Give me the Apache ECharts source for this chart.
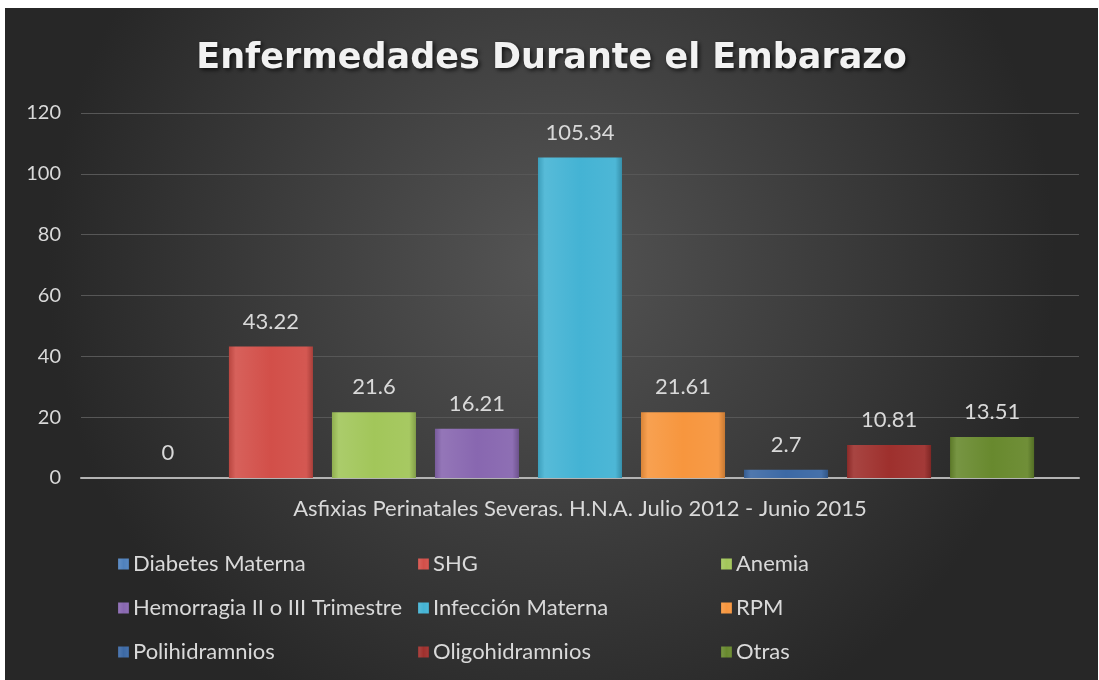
<!DOCTYPE html>
<html>
<head>
<meta charset="utf-8">
<script src="https://cdn.jsdelivr.net/npm/echarts@6/dist/echarts.min.js"></script>
<style>
  html, body { margin: 0; padding: 0; background: #fff; }
  #chart { position: absolute; left: 5px; top: 8px; width: 1093px; height: 672px; }
</style>
</head>
<body>
<div id="chart"></div>
<script>
const categories = ['Asfixias Perinatales Severas. H.N.A. Julio 2012 - Junio 2015']
const seriesNames = ['Diabetes Materna', 'SHG', 'Anemia', 'Hemorragia II o III Trimestre', 'Infección Materna', 'RPM', 'Polihidramnios', 'Oligohidramnios', 'Otras']
const seriesValues = [0, 43.22, 21.6, 16.21, 105.34, 21.61, 2.7, 10.81, 13.51]
const yTicks = [0, 20, 40, 60, 80, 100, 120]
const colors = ['#4f81bd', '#d24f49', '#a2c65a', '#8867b0', '#44b3d4', '#f7963e', '#3c69a5', '#9e302d', '#68892e']

// legend columns (3 x 3 grid like the original)
const legendCols = [
  ['Diabetes Materna', 'Hemorragia II o III Trimestre', 'Polihidramnios'],
  ['SHG', 'Infección Materna', 'Oligohidramnios'],
  ['Anemia', 'RPM', 'Otras']
]
const legendLeft = [108, 408, 711]

const lighten = (hex, amt) => {
  const n = parseInt(hex.slice(1), 16)
  let r = (n >> 16) & 255, g = (n >> 8) & 255, b = n & 255
  r = Math.round(r + (255 - r) * amt); g = Math.round(g + (255 - g) * amt); b = Math.round(b + (255 - b) * amt)
  return `rgb(${r},${g},${b})`
}
const darken = (hex, amt) => {
  const n = parseInt(hex.slice(1), 16)
  const f = c => Math.round(c * (1 - amt))
  return `rgb(${f((n >> 16) & 255)},${f((n >> 8) & 255)},${f(n & 255)})`
}
const barFill = c => new echarts.graphic.LinearGradient(0, 0, 1, 0, [
  { offset: 0, color: darken(c, 0.12) },
  { offset: 0.08, color: lighten(c, 0.1) },
  { offset: 0.5, color: c },
  { offset: 0.92, color: lighten(c, 0.05) },
  { offset: 1, color: darken(c, 0.2) }
])

const chart = echarts.init(document.getElementById('chart'))
const font = 'Lato, "Open Sans", sans-serif'

chart.setOption({
  animation: false,
  backgroundColor: {
    type: 'radial', x: 0.5, y: 0.38, r: 0.75,
    colorStops: [{ offset: 0, color: '#555555' }, { offset: 1, color: '#272727' }]
  },
  title: {
    text: 'Enfermedades Durante el Embarazo',
    left: 'center',
    top: 28,
    textStyle: {
      color: '#f2f2f2', fontFamily: '"DejaVu Sans", sans-serif', fontWeight: 'bold', fontSize: 35,
      textShadowColor: 'rgba(0,0,0,0.7)', textShadowBlur: 4, textShadowOffsetX: 2, textShadowOffsetY: 2
    }
  },
  legend: legendCols.map((names, i) => ({
    data: names,
    orient: 'vertical',
    left: legendLeft[i],
    top: 539,
    itemWidth: 11,
    itemHeight: 11,
    itemGap: 20,
    icon: 'rect',
    selectedMode: false,
    textStyle: { color: '#d9d9d9', fontFamily: font, fontSize: 22, lineHeight: 24, padding: [0, 0, 0, -1] }
  })),
  grid: { left: 76, right: 19, top: 105, bottom: 202 },
  xAxis: {
    type: 'category',
    data: categories,
    axisTick: { show: false },
    axisLine: { lineStyle: { color: '#b3b3b3', width: 2 } },
    axisLabel: { color: '#d9d9d9', fontFamily: font, fontSize: 22, margin: 20 }
  },
  yAxis: {
    type: 'value',
    min: yTicks[0],
    max: yTicks[yTicks.length - 1],
    interval: 20,
    axisLine: { show: false },
    axisTick: { show: false },
    splitLine: { lineStyle: { color: '#575757', width: 1 } },
    axisLabel: { color: '#d9d9d9', fontFamily: font, fontSize: 20, margin: 20 }
  },
  series: seriesNames.map((name, i) => ({
    name,
    type: 'bar',
    data: [seriesValues[i]],
    barGap: '22.6%',
    barCategoryGap: '9%',
    itemStyle: { color: barFill(colors[i]) },
    label: {
      show: true, position: 'top', distance: 14,
      color: '#d9d9d9', fontFamily: font, fontSize: 22
    }
  })),
  color: colors
})
</script>
</body>
</html>
